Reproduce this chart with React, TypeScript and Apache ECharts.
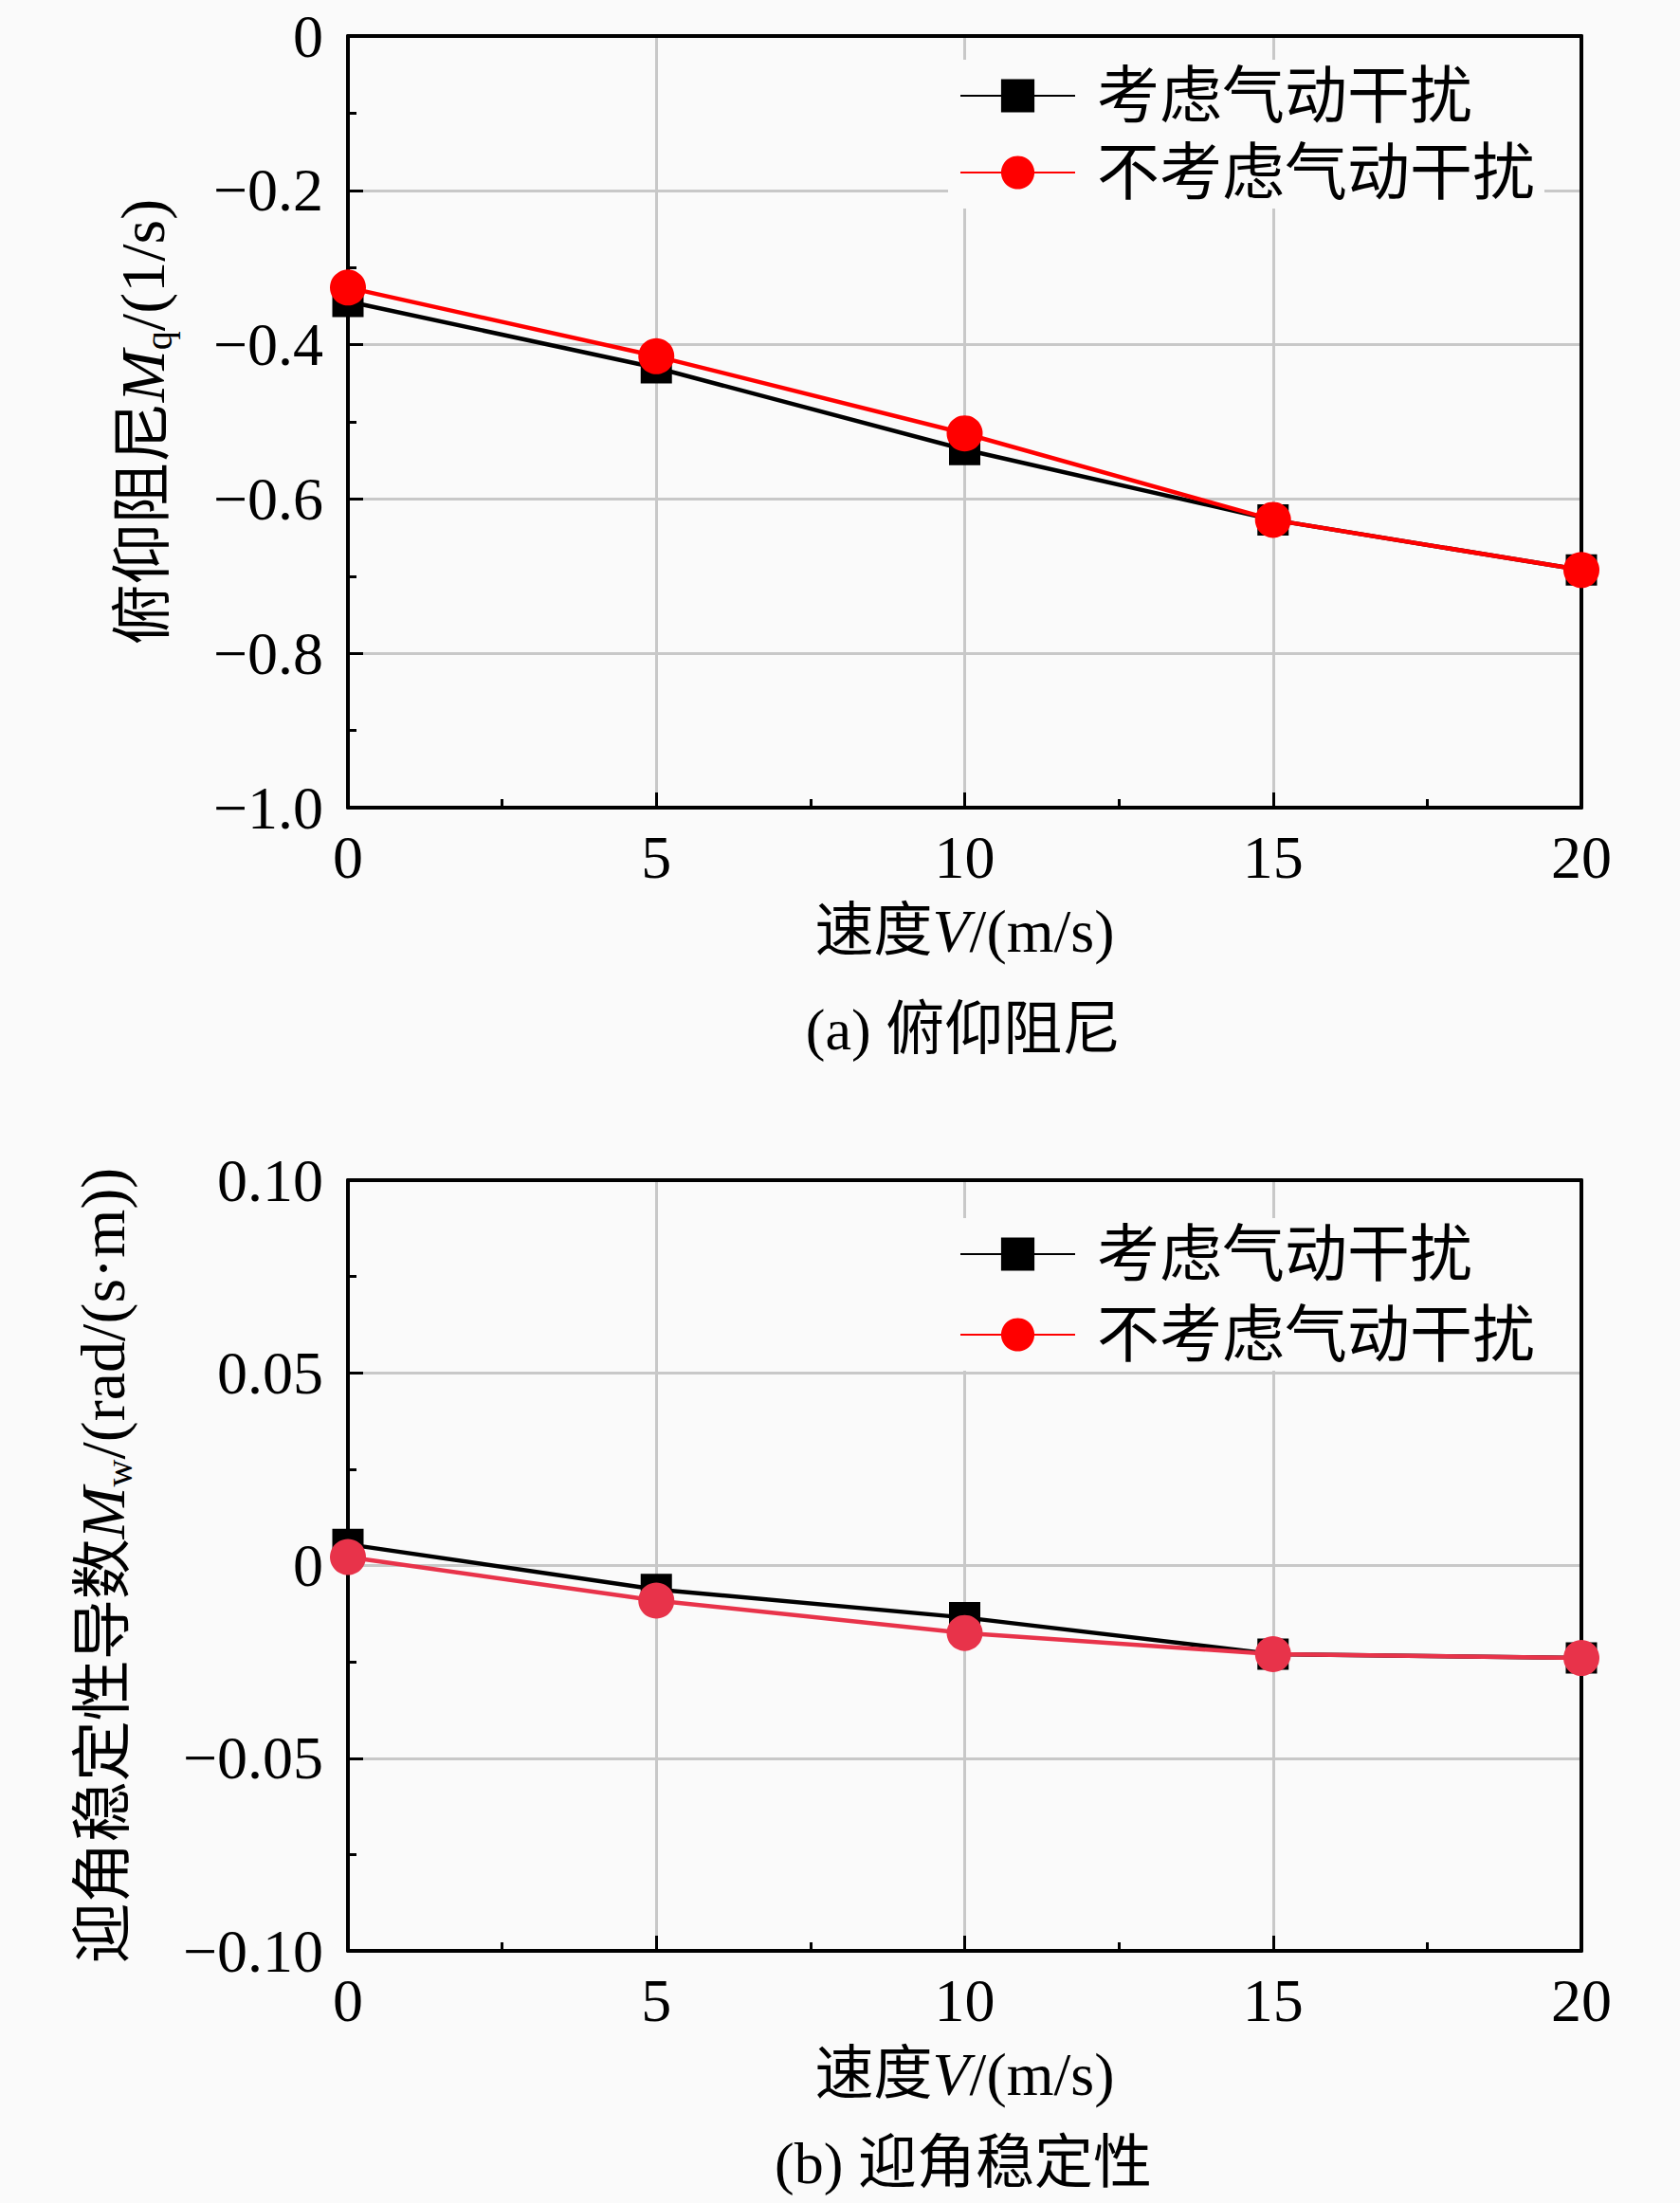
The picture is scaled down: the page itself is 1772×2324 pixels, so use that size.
import React, { useEffect, useRef } from "react";
import * as echarts from "echarts";

const speeds = [0, 5, 10, 15, 20];
const seriesNames = ["考虑气动干扰", "不考虑气动干扰"];
const mqWith = [-0.344, -0.43, -0.536, -0.627, -0.692];
const mqWithout = [-0.326, -0.415, -0.515, -0.627, -0.692];
const mwWith = [0.0055, -0.0062, -0.0135, -0.023, -0.024];
const mwWithout = [0.0022, -0.0091, -0.0175, -0.023, -0.024];
const captionA = "(a) 俯仰阻尼";
const captionB = "(b) 迎角稳定性";

const BG = "#fafafa";
const SERIF = "'Liberation Serif', 'Times New Roman', serif";
const CJK = "'Liberation Serif', 'Noto Sans CJK SC', serif";

function fmtNum(v: number, digits: number) {
  if (Math.abs(v) < 1e-9) return "0";
  const s = Math.abs(v).toFixed(digits);
  return (v < 0 ? "\u2212" : "") + s;
}

export default function App() {
  const ref = useRef<HTMLDivElement>(null);
  useEffect(() => {
    document.body.style.margin = "0";
    const chart = echarts.init(ref.current!, null, { renderer: "svg" });
    const grids = [
      { left: 367, top: 38, width: 1301, height: 814 },
      { left: 367, top: 1245, width: 1301, height: 813 },
    ];
    const xAxes: any[] = [];
    const yAxes: any[] = [];
    const yCfg = [
      { min: -1, max: 0, interval: 0.2, digits: 1, name: "俯仰阻尼{i|M}{sub|q}{t|/(1/s)}", gap: 180 },
      { min: -0.1, max: 0.1, interval: 0.05, digits: 2, name: "迎角稳定性导数{i|M}{sub|w}{t|/(rad/(s·m))}", gap: 222 },
    ];
    const nameRich = {
      i: { fontFamily: SERIF, fontStyle: "italic", fontSize: 66, color: "#000" },
      t: { fontFamily: SERIF, fontSize: 66, color: "#000" },
      sub: { fontFamily: SERIF, fontSize: 40, color: "#000", padding: [34, 0, 0, 0] },
    };
    grids.forEach((g, gi) => {
      xAxes.push({
        gridIndex: gi, type: "value", min: 0, max: 20, interval: 5, position: "bottom", z: 0,
        axisLine: { show: false }, axisTick: { show: false }, axisLabel: { show: false },
        splitLine: { show: true, lineStyle: { color: "#c8c8c8", width: 3 } },
      });
      xAxes.push({
        gridIndex: gi, type: "value", min: 0, max: 20, interval: 5, position: "bottom", z: 3,
        axisLine: { show: true, onZero: false, lineStyle: { color: "#000", width: 4 } },
        axisTick: { show: true, inside: true, length: 16, lineStyle: { color: "#000", width: 3 } },
        minorTick: { show: true, splitNumber: 2, length: 9, lineStyle: { color: "#000", width: 3 } },
        axisLabel: { show: true, margin: 20, fontFamily: SERIF, fontSize: 64, color: "#000" },
        splitLine: { show: false },
        name: "速度{i|V}{t|/(m/s)}", nameLocation: "middle", nameGap: 98,
        nameTextStyle: { fontFamily: CJK, fontSize: 62, color: "#000", rich: { i: { fontFamily: SERIF, fontStyle: "italic", fontSize: 64, color: "#000" }, t: { fontFamily: SERIF, fontSize: 64, color: "#000" } } },
      });
      xAxes.push({
        gridIndex: gi, type: "value", min: 0, max: 20, interval: 5, position: "top", z: 3,
        axisLine: { show: true, onZero: false, lineStyle: { color: "#000", width: 4 } },
        axisTick: { show: false }, axisLabel: { show: false }, splitLine: { show: false },
      });
      const c = yCfg[gi];
      yAxes.push({
        gridIndex: gi, type: "value", min: c.min, max: c.max, interval: c.interval, position: "left", z: 0,
        axisLine: { show: false }, axisTick: { show: false }, axisLabel: { show: false },
        splitLine: { show: true, lineStyle: { color: "#c8c8c8", width: 3 } },
      });
      yAxes.push({
        gridIndex: gi, type: "value", min: c.min, max: c.max, interval: c.interval, position: "left", z: 3,
        axisLine: { show: true, onZero: false, lineStyle: { color: "#000", width: 4 } },
        axisTick: { show: true, inside: true, length: 16, lineStyle: { color: "#000", width: 3 } },
        minorTick: { show: true, splitNumber: 2, length: 9, lineStyle: { color: "#000", width: 3 } },
        axisLabel: { show: true, margin: 26, fontFamily: SERIF, fontSize: 64, color: "#000", formatter: (v: number) => fmtNum(v, c.digits) },
        splitLine: { show: false },
        name: c.name, nameLocation: "middle", nameGap: c.gap, nameRotate: 90,
        nameTextStyle: { fontFamily: CJK, fontSize: 64, color: "#000", rich: nameRich },
      });
      yAxes.push({
        gridIndex: gi, type: "value", min: c.min, max: c.max, interval: c.interval, position: "right", z: 3,
        axisLine: { show: true, onZero: false, lineStyle: { color: "#000", width: 4 } },
        axisTick: { show: false }, axisLabel: { show: false }, splitLine: { show: false },
      });
    });

    const mk = (name: string, data: number[], gi: number, color: string, symbol: string, size: number) => ({
      name, type: "line", xAxisIndex: gi * 3, yAxisIndex: gi * 3, z: 5,
      data: speeds.map((s, i) => [s, data[i]]),
      symbol, symbolSize: size, showSymbol: true,
      lineStyle: { color, width: 4.5 },
      itemStyle: { color, borderWidth: 0 },
      clip: false,
    });

    const legendCommon = {
      orient: "vertical", left: 1000, itemWidth: 121, itemHeight: 44,
      backgroundColor: BG, padding: [5, 10, 5, 12],
      textStyle: { fontFamily: CJK, fontSize: 66, lineHeight: 66, color: "#000", padding: [0, 0, 0, 18] },
      data: seriesNames, z: 6,
    };

    chart.setOption({
      animation: false,
      backgroundColor: BG,
      grid: grids.map((g) => ({ ...g, containLabel: false })),
      xAxis: xAxes,
      yAxis: yAxes,
      legend: [
        { ...legendCommon, top: 63, itemGap: 15 },
        { ...legendCommon, top: 1285, itemGap: 19 },
      ],
      series: [
        mk(seriesNames[0], mqWith, 0, "#000000", "rect", 33),
        mk(seriesNames[1], mqWithout, 0, "#ff0000", "circle", 38),
        mk(seriesNames[0], mwWith, 1, "#000000", "rect", 33),
        mk(seriesNames[1], mwWithout, 1, "#e8334a", "circle", 38),
      ],
      graphic: [
        { type: "text", x: 1016, y: 1086, style: { text: captionA, fontFamily: CJK, fontSize: 62, fill: "#000", textAlign: "center", textVerticalAlign: "middle" } },
        { type: "text", x: 1016, y: 2282, style: { text: captionB, fontFamily: CJK, fontSize: 62, fill: "#000", textAlign: "center", textVerticalAlign: "middle" } },
      ],
    });
    return () => chart.dispose();
  }, []);
  return <div ref={ref} style={{ width: 1772, height: 2324 }} />;
}
